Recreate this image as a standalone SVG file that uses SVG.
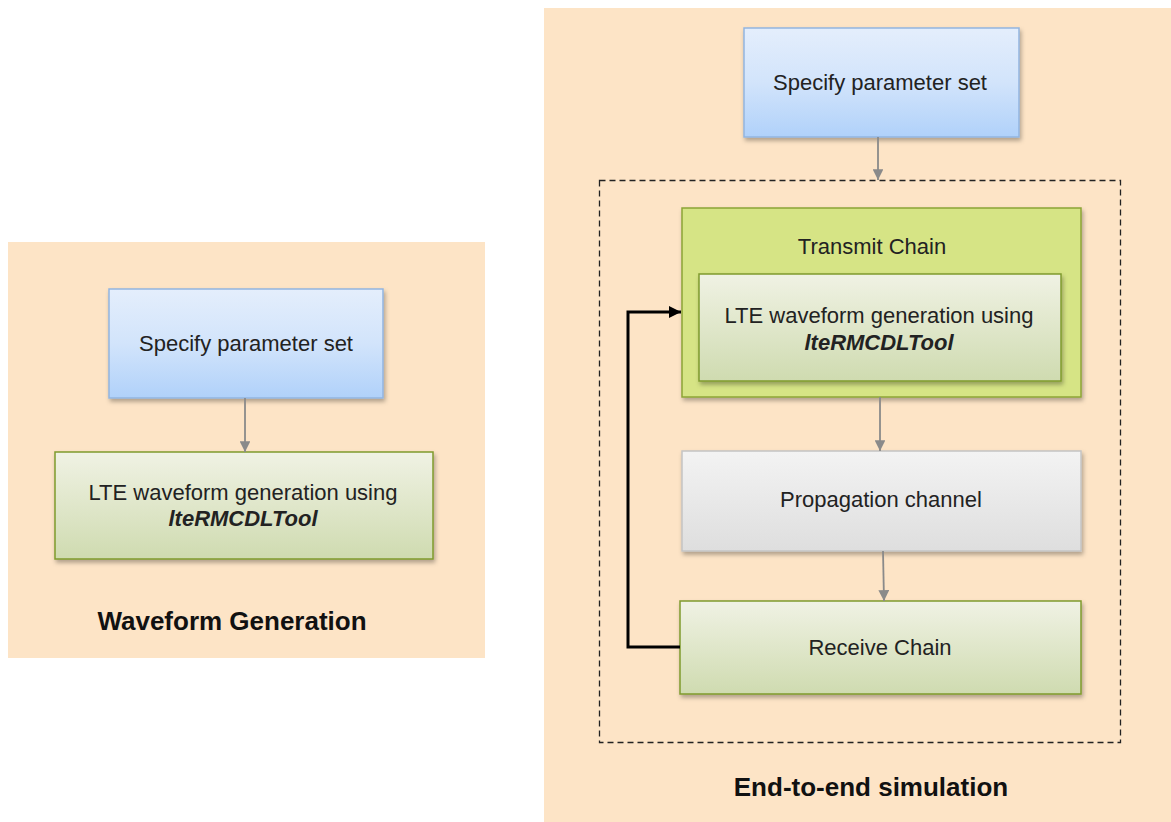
<svg xmlns="http://www.w3.org/2000/svg" width="1171" height="822" viewBox="0 0 1171 822">
<defs>
<linearGradient id="gBlue" x1="0" y1="0" x2="0" y2="1"><stop offset="0" stop-color="#E4EEFC"/><stop offset="0.5" stop-color="#D2E4FB"/><stop offset="1" stop-color="#B0D1FA"/></linearGradient>
<linearGradient id="gGreen" x1="0" y1="0" x2="0" y2="1"><stop offset="0" stop-color="#F0F2E4"/><stop offset="1" stop-color="#CFDBB0"/></linearGradient>
<linearGradient id="gGray" x1="0" y1="0" x2="0" y2="1"><stop offset="0" stop-color="#F3F3F3"/><stop offset="1" stop-color="#DEDEDE"/></linearGradient>
<filter id="sh" x="-10%" y="-10%" width="120%" height="130%"><feDropShadow dx="1.5" dy="3" stdDeviation="2" flood-color="#000" flood-opacity="0.3"/></filter>
<marker id="ag" viewBox="0 0 10 10" refX="10" refY="5" markerWidth="6" markerHeight="6" orient="auto" markerUnits="strokeWidth"><path d="M0,0 L10,5 L0,10 z" fill="#8A8A8A"/></marker>
<marker id="ab" viewBox="0 0 10 10" refX="10" refY="5" markerWidth="4" markerHeight="4" orient="auto" markerUnits="strokeWidth"><path d="M0,0 L10,5 L0,10 z" fill="#000"/></marker>
<style>
.t{font-family:"Liberation Sans",Arial,sans-serif;font-size:22px;fill:#222;text-anchor:middle}
.ti{font-style:italic;font-weight:bold}
.h{font-family:"Liberation Sans",Arial,sans-serif;font-size:26px;font-weight:bold;fill:#111;text-anchor:middle}
.bg{fill:#FDE4C6}
.blue{fill:url(#gBlue);stroke:#92B5E0;stroke-width:1.5;filter:url(#sh)}
.green{fill:url(#gGreen);stroke:#7F9A2C;stroke-width:1.5;filter:url(#sh)}
.gray{fill:url(#gGray);stroke:#C4C4C4;stroke-width:1.5;filter:url(#sh)}
.tx{fill:#D6E485;stroke:#8CA434;stroke-width:1.5;filter:url(#sh)}
.c{stroke:#8A8A8A;stroke-width:1.8;fill:none;marker-end:url(#ag)}
</style>
</defs>
<rect width="1171" height="822" fill="#FFFFFF"/>
<g id="panel-waveform">
<rect class="bg" x="8" y="242" width="477" height="416"/>
<text class="h" x="232" y="630">Waveform Generation</text>
</g>
<g id="panel-e2e">
<rect class="bg" x="544" y="8" width="627" height="814"/>
<text class="h" x="871" y="796">End-to-end simulation</text>
</g>
<g id="loop-boundary">
<rect x="599.5" y="180.5" width="521" height="562" fill="none" stroke="#222" stroke-width="1.3" stroke-dasharray="6,4"/>
</g>
<g id="w-param">
<rect class="blue" x="109" y="289" width="274" height="109"/>
<text class="t" x="246" y="351">Specify parameter set</text>
</g>
<g id="w-lte">
<rect class="green" x="55" y="452" width="378" height="107"/>
<text class="t" x="243" y="500">LTE waveform generation using</text>
<text class="t ti" x="243" y="526">lteRMCDLTool</text>
</g>
<g id="e-param">
<rect class="blue" x="744" y="28" width="275" height="109"/>
<text class="t" x="880" y="90">Specify parameter set</text>
</g>
<g id="e-transmit">
<rect class="tx" x="682" y="208" width="399" height="189"/>
<text class="t" x="872" y="254">Transmit Chain</text>
</g>
<g id="e-lte">
<rect class="green" x="699" y="274" width="362" height="107"/>
<text class="t" x="879" y="323">LTE waveform generation using</text>
<text class="t ti" x="879" y="350">lteRMCDLTool</text>
</g>
<g id="e-channel">
<rect class="gray" x="682" y="451" width="399" height="100"/>
<text class="t" x="881" y="507">Propagation channel</text>
</g>
<g id="e-receive">
<rect class="green" x="680" y="601" width="401" height="93"/>
<text class="t" x="880" y="655">Receive Chain</text>
</g>
<g id="connectors">
<line class="c" x1="245" y1="398" x2="245" y2="452"/>
<line class="c" x1="878" y1="137" x2="878" y2="180"/>
<line class="c" x1="880" y1="397" x2="880" y2="451"/>
<line class="c" x1="883" y1="551" x2="884" y2="601"/>
<path d="M680,647 H628 V312 H681" fill="none" stroke="#000" stroke-width="3" marker-end="url(#ab)"/>
</g>
</svg>
